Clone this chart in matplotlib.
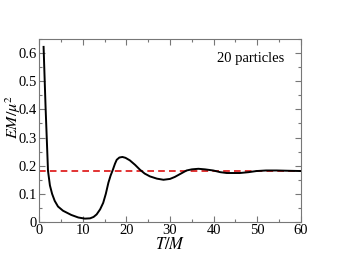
import matplotlib
matplotlib.use("Agg")
import matplotlib.pyplot as plt
from matplotlib.ticker import MultipleLocator, FuncFormatter

plt.rcParams['font.family'] = ['Liberation Serif', 'DejaVu Serif']
plt.rcParams['mathtext.fontset'] = 'stix'

t = [1.05, 1.5, 2.06, 2.5, 3.0, 3.6, 4.35, 5.5, 7.4, 9.0, 10.5, 11.7, 12.5, 13.2,
     14.0, 14.7, 15.3, 15.9, 16.4, 16.9, 17.4, 17.8, 18.4, 19.1, 19.8, 20.8, 22.0,
     23.1, 24.2, 25.4, 27.0, 28.5, 30.0, 31.1, 32.5, 33.8, 35.0, 36.5, 38.0, 39.9,
     41.5, 43.0, 46.0, 48.0, 49.8, 52.0, 54.4, 57.0, 60.0]
em = [0.622, 0.41, 0.182, 0.13, 0.10, 0.075, 0.055, 0.04, 0.025, 0.016, 0.012, 0.013,
      0.018, 0.027, 0.045, 0.068, 0.10, 0.14, 0.165, 0.185, 0.207, 0.221, 0.229, 0.231,
      0.228, 0.219, 0.203, 0.186, 0.172, 0.162, 0.154, 0.150, 0.153, 0.160, 0.172,
      0.183, 0.187, 0.189, 0.187, 0.183, 0.177, 0.174, 0.174, 0.177, 0.181, 0.183,
      0.183, 0.182, 0.181]
equilibrium = 0.182
label = "20 particles"

fig = plt.figure(figsize=(3.39, 2.62), dpi=100)
ax = fig.add_axes([39/339, 1-222/262, (301-39)/339, (222-39)/262])

ax.axhline(equilibrium, color='#dd1111', lw=1.2, ls=(0, (4, 2.5)), zorder=2)
ax.plot(t, em, color='black', lw=1.4, zorder=3)

ax.set_xlim(0, 60)
ax.set_ylim(0, 0.65)
ax.xaxis.set_major_locator(MultipleLocator(10))
ax.xaxis.set_minor_locator(MultipleLocator(5))
ax.yaxis.set_major_locator(MultipleLocator(0.1))
ax.yaxis.set_minor_locator(MultipleLocator(0.05))
ax.yaxis.set_major_formatter(FuncFormatter(lambda v, p: '0' if abs(v) < 1e-9 else f'{v:.1f}'))

for s in ax.spines.values():
    s.set_color('#777777')
    s.set_linewidth(0.8)
ax.tick_params(which='both', direction='in', top=True, right=True, color='#777777',
               labelsize=10.5, pad=1.5)
ax.tick_params(which='major', length=4, width=0.8)
ax.tick_params(which='minor', length=2.5, width=0.8)

ax.set_xlabel(r'$T/M$', fontsize=12)
ax.xaxis.set_label_coords(0.5, -0.082)
ax.set_ylabel(r'$EM/\mu^2$', fontsize=11.5)
ax.yaxis.set_label_coords(-0.06, 0.574)
ax.text(0.935, 0.874, label, transform=ax.transAxes, ha='right', va='baseline', fontsize=10.5)

fig.savefig('out.png', dpi=100)
